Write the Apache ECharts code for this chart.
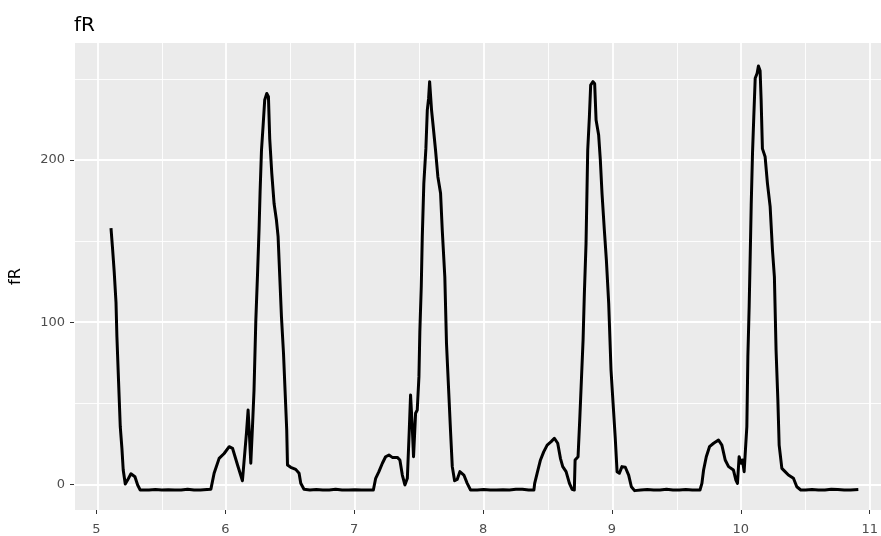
<!DOCTYPE html>
<html>
<head>
<meta charset="utf-8">
<script src="https://cdn.jsdelivr.net/npm/echarts@6/dist/echarts.min.js"></script>
<style>
  html, body { margin: 0; padding: 0; background: #ffffff; }
  #chart { width: 881px; height: 536px; }
</style>
</head>
<body>
<div id="chart"></div>
<script>
// Sample times (x) and fR values (y) of the trace
const time = [
  5.105, 5.118, 5.130, 5.144, 5.151, 5.164, 5.177, 5.190, 5.200, 5.216,
  5.234, 5.260, 5.291, 5.312, 5.332, 5.40, 5.45, 5.50, 5.55, 5.60,
  5.65, 5.70, 5.75, 5.80, 5.85, 5.881, 5.906, 5.945, 5.984, 6.023,
  6.049, 6.088, 6.126, 6.139, 6.157, 6.170, 6.181, 6.191, 6.204, 6.216,
  6.230, 6.243, 6.255, 6.263, 6.274, 6.286, 6.299, 6.315, 6.328, 6.338,
  6.354, 6.372, 6.390, 6.403, 6.416, 6.429, 6.445, 6.457, 6.470, 6.476,
  6.501, 6.540, 6.566, 6.579, 6.604, 6.65, 6.70, 6.75, 6.80, 6.85,
  6.90, 6.95, 7.00, 7.05, 7.10, 7.143, 7.161, 7.186, 7.213, 7.238,
  7.264, 7.290, 7.329, 7.349, 7.368, 7.388, 7.407, 7.422, 7.432, 7.445,
  7.455, 7.471, 7.484, 7.497, 7.504, 7.515, 7.523, 7.535, 7.551, 7.562,
  7.572, 7.580, 7.587, 7.595, 7.608, 7.626, 7.644, 7.665, 7.678, 7.698,
  7.711, 7.729, 7.742, 7.756, 7.774, 7.794, 7.815, 7.846, 7.872, 7.898,
  7.95, 8.00, 8.05, 8.10, 8.15, 8.20, 8.25, 8.30, 8.35, 8.39,
  8.396, 8.415, 8.441, 8.466, 8.493, 8.524, 8.549, 8.575, 8.596, 8.614,
  8.640, 8.666, 8.687, 8.704, 8.710, 8.733, 8.746, 8.759, 8.772, 8.782,
  8.795, 8.808, 8.821, 8.831, 8.849, 8.862, 8.873, 8.893, 8.906, 8.919,
  8.937, 8.953, 8.971, 8.989, 9.005, 9.022, 9.036, 9.054, 9.074, 9.100,
  9.126, 9.147, 9.172, 9.22, 9.27, 9.32, 9.37, 9.42, 9.47, 9.52,
  9.57, 9.62, 9.68, 9.695, 9.708, 9.729, 9.754, 9.786, 9.824, 9.850,
  9.876, 9.902, 9.940, 9.959, 9.971, 9.984, 9.998, 10.010, 10.023, 10.033,
  10.044, 10.052, 10.062, 10.070, 10.078, 10.088, 10.098, 10.109, 10.124, 10.134,
  10.147, 10.155, 10.165, 10.186, 10.204, 10.225, 10.243, 10.258, 10.271, 10.285,
  10.295, 10.316, 10.341, 10.367, 10.406, 10.432, 10.463, 10.50, 10.55, 10.60,
  10.65, 10.70, 10.75, 10.80, 10.85, 10.91
];
const fR = [
  158, 144.5, 131, 112, 91, 63, 35.5, 22, 8.8, 0.2,
  2.6, 6.5, 4.7, -0.4, -3.5, -3.5, -3.2, -3.5, -3.3, -3.5,
  -3.5, -3.0, -3.5, -3.5, -3.2, -3.0, 6.8, 16, 19, 23.2,
  22.2, 11.9, 2.2, 1.5, 31.4, 45.8, 29.4, 13, 35.5, 58,
  101, 129, 157, 180, 206, 220.5, 237, 241, 239, 213,
  191.8, 173, 163, 152.7, 128, 103.4, 80.8, 58, 33.5, 11.9,
  10.5, 9.2, 6.8, 0.6, -3.1, -3.5, -3.2, -3.5, -3.5, -3.0,
  -3.5, -3.5, -3.3, -3.5, -3.5, -3.5, 3.7, 7.8, 13, 17,
  18, 16.6, 16.6, 15, 5.7, -0.4, 3.7, 33.5, 55, 35.5,
  17, 43.8, 45.8, 66.4, 94, 121.9, 152.7, 185.6, 207, 230.8,
  238, 248.3, 248.3, 230.8, 220.5, 206, 189.7, 179.5, 157, 128,
  87, 56, 33.5, 10.9, 2.2, 3, 7.8, 5.7, 0.6, -3.5,
  -3.5, -3.2, -3.5, -3.5, -3.3, -3.5, -3.0, -3.0, -3.5, -3.5,
  0.6, 6.8, 15, 20, 24.2, 26.3, 28.4, 25.3, 16, 10.9,
  7.8, 0.6, -3.1, -3.5, 15, 17, 39.7, 64.3, 89, 117.8,
  148.6, 206, 226.7, 246.2, 248.3, 247, 224.7, 215.4, 200, 179.5,
  157, 138.3, 111.6, 70.5, 50, 28.4, 7.8, 6.8, 10.9, 10.5,
  5.7, -1.5, -3.9, -3.5, -3.2, -3.5, -3.5, -3.0, -3.5, -3.5,
  -3.2, -3.5, -3.5, 0.6, 8.8, 17, 23.2, 25.3, 27.3, 24.2,
  15, 10.9, 8.8, 2.6, 0.6, 17, 13, 15, 7.8, 21,
  35.5, 78.7, 109.5, 140.4, 172.2, 204, 226.7, 250.4, 253.5, 258,
  255, 237, 207, 202, 185.6, 171.2, 144.5, 128, 82.8, 52,
  24.2, 9.8, 7.8, 5.7, 3.7, -1.5, -3.5, -3.5, -3.2, -3.5,
  -3.5, -3.0, -3.2, -3.5, -3.5, -3.2
];

// Tick positions for the two axes
const xTicks = [5, 6, 7, 8, 9, 10, 11];
const yTicks = [0, 100, 200];

// Plot panel layout (pixels) and the data range it shows
const W = 881, H = 536;
const panel = { left: 74, top: 43, right: 881, bottom: 510 };
const xPx = 128.9;            // pixels per x unit
const x0Px = 96.5;            // pixel column of x = 5
const yPx = 1.6215;           // pixels per y unit
const y0Px = 484.3;           // pixel row of y = 0

const xMin = xTicks[0] - (x0Px - panel.left) / xPx;
const xMax = xTicks[0] + (panel.right - x0Px) / xPx;
const yMin = -(panel.bottom - y0Px) / yPx;
const yMax = (y0Px - panel.top) / yPx;

// Pixel span of the labelled tick range on each axis
const tickLeft = x0Px;
const tickRight = x0Px + (xTicks[xTicks.length - 1] - xTicks[0]) * xPx;
const tickTop = y0Px - yTicks[yTicks.length - 1] * yPx;

const labelColor = '#4D4D4D';
const tickColor = '#333333';
const font = 'DejaVu Sans, Verdana, sans-serif';

const hiddenAxis = (gridIndex) => ({
  type: 'value', gridIndex, show: false, min: 0, max: 1
});

const chart = echarts.init(document.getElementById('chart'), null, { renderer: 'canvas' });

chart.setOption({
  backgroundColor: '#ffffff',
  animation: false,
  title: {
    text: 'fR',
    left: 74,
    top: 16,
    padding: 0,
    textStyle: { fontFamily: font, fontSize: 20, fontWeight: 'normal', color: '#000000' }
  },
  grid: [
    // plot panel with the grey background and white grid lines
    {
      left: panel.left, top: panel.top,
      right: W - panel.right, bottom: H - panel.bottom,
      show: true, backgroundColor: '#EBEBEB', borderWidth: 0,
      containLabel: false
    },
    // x tick marks and labels (x = 5 .. 11), along the bottom of the panel
    {
      left: tickLeft, top: panel.top,
      right: W - tickRight, bottom: H - panel.bottom,
      show: false, containLabel: false
    },
    // y tick marks and labels (y = 0 .. 200), along the left of the panel
    {
      left: panel.left, top: tickTop,
      right: W - panel.right, bottom: H - y0Px,
      show: false, containLabel: false
    }
  ],
  xAxis: [
    {
      type: 'value', gridIndex: 0,
      min: xMin, max: xMax,
      minInterval: 1, maxInterval: 1,
      axisLine: { show: false },
      axisTick: { show: false },
      axisLabel: { show: false },
      splitLine: { show: true, showMinLine: false, showMaxLine: false,
                   lineStyle: { color: '#ffffff', width: 1.8 } },
      minorTick: { show: false, splitNumber: 2 },
      minorSplitLine: { show: true, lineStyle: { color: '#ffffff', width: 0.9 } }
    },
    {
      type: 'value', gridIndex: 1, position: 'bottom',
      min: xTicks[0], max: xTicks[xTicks.length - 1], interval: 1,
      axisLine: { show: false, onZero: false },
      axisTick: { show: true, length: 4, lineStyle: { color: tickColor, width: 1 } },
      axisLabel: { show: true, margin: 13, color: labelColor, fontFamily: font, fontSize: 13,
                   formatter: v => (xTicks.indexOf(v) >= 0 ? String(v) : '') },
      splitLine: { show: false }
    },
    hiddenAxis(2)
  ],
  yAxis: [
    {
      type: 'value', gridIndex: 0,
      min: yMin, max: yMax,
      minInterval: 100, maxInterval: 100,
      name: 'fR',
      nameLocation: 'middle',
      nameGap: 51,
      nameRotate: 90,
      nameTextStyle: { fontFamily: font, fontSize: 16, color: '#000000' },
      axisLine: { show: false },
      axisTick: { show: false },
      axisLabel: { show: false },
      splitLine: { show: true, showMinLine: false, showMaxLine: false,
                   lineStyle: { color: '#ffffff', width: 1.8 } },
      minorTick: { show: false, splitNumber: 2 },
      minorSplitLine: { show: true, lineStyle: { color: '#ffffff', width: 0.9 } }
    },
    hiddenAxis(1),
    {
      type: 'value', gridIndex: 2, position: 'left',
      min: yTicks[0], max: yTicks[yTicks.length - 1], interval: 100,
      axisLine: { show: false, onZero: false },
      axisTick: { show: true, length: 4, lineStyle: { color: tickColor, width: 1 } },
      axisLabel: { show: true, margin: 9, color: labelColor, fontFamily: font, fontSize: 13,
                   formatter: v => (yTicks.indexOf(v) >= 0 ? String(v) : '') },
      splitLine: { show: false }
    }
  ],
  series: [
    {
      type: 'line',
      xAxisIndex: 0, yAxisIndex: 0,
      data: time.map((t, i) => [t, fR[i]]),
      showSymbol: false,
      symbol: 'none',
      lineStyle: { color: '#000000', width: 3, join: 'round' },
      z: 3
    }
  ]
});
</script>
</body>
</html>
